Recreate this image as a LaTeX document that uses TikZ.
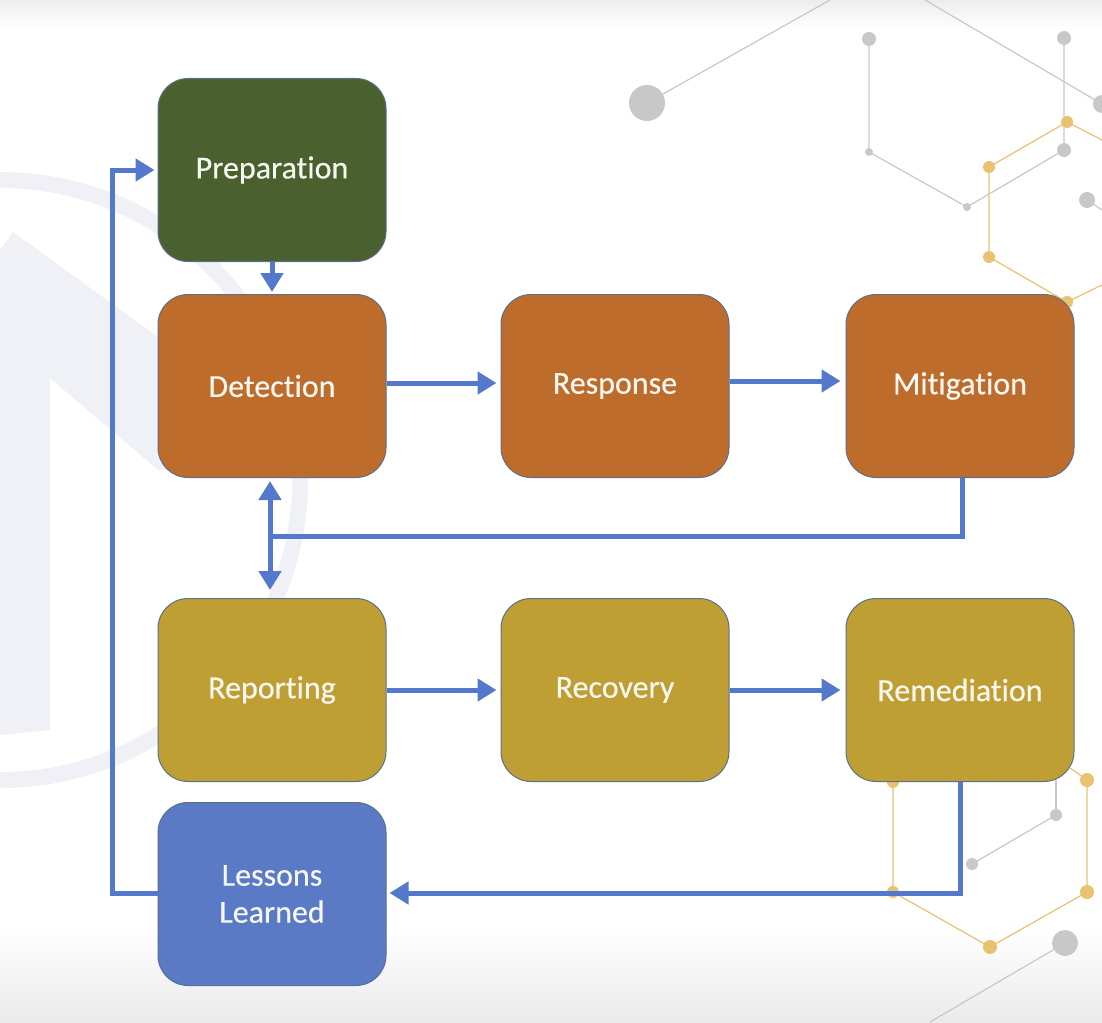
\documentclass[tikz,border=0pt]{standalone}
\usepackage{fontspec}
\setmainfont{Carlito}[Ligatures=NoCommon, FakeBold=0.4]
\usetikzlibrary{arrows.meta,calc}
\definecolor{bgline}{HTML}{C8C8C8}
\definecolor{hexor}{HTML}{E9C16F}
\definecolor{wm}{HTML}{F0F1F6}
\definecolor{cgreen}{HTML}{4A602F}
\definecolor{corange}{HTML}{BD6C2C}
\definecolor{cgold}{HTML}{BF9F33}
\definecolor{cblue}{HTML}{5A7AC5}
\definecolor{cedge}{HTML}{5C6F8E}
\definecolor{carrow}{HTML}{5479CC}
\definecolor{ctext}{HTML}{F7F7F2}
\tikzset{
  stepbox/.style={draw=cedge, line width=1pt, rounded corners=30pt, minimum width=228pt, minimum height=183pt, text=ctext, font=\fontsize{32}{37}\selectfont, align=center, inner sep=0pt},
  flow/.style={draw=carrow, line width=5pt, -{Triangle[width=22pt,length=19pt]}},
  flowline/.style={draw=carrow, line width=5pt},
  dbl/.style={draw=carrow, line width=5pt, {Triangle[width=22pt,length=19pt]}-{Triangle[width=22pt,length=19pt]}},
  gl/.style={draw=bgline, line width=1.2pt},
  ol/.style={draw=hexor, line width=1.2pt},
}
\begin{document}
\begin{tikzpicture}[x=1pt,y=-1pt]
\useasboundingbox (0,0) rectangle (1102,1022);
% background
\fill[white] (0,0) rectangle (1102,1022);
\shade[top color=black!7, bottom color=white] (0,0) rectangle (1102,28);
\shade[top color=white, bottom color=black!8] (0,930) rectangle (1102,1022);
% watermark
\fill[wm] (0,250) -- (13,232) -- (300,440) -- (300,470) -- (158,470) -- (50,378) -- (50,730) -- (0,735) -- cycle;
\draw[wm, line width=16pt] (0,480) ++(105:300) arc[start angle=105, end angle=-105, radius=300];
% network decoration
\coordinate (g1) at (647,103); \coordinate (g2) at (869,39); \coordinate (g3) at (869,152);
\coordinate (g4) at (967,207); \coordinate (g5) at (1064,150); \coordinate (g6) at (1064,38);
\coordinate (g7) at (1102,104); \coordinate (g8) at (1087,200);
\draw[gl] (g1) -- (830,0);
\draw[gl] (925,0) -- (g7);
\draw[gl] (g2) -- (g3) -- (g4) -- (g5) -- (g6);
\draw[gl] (g8) -- (1102,210);
\coordinate (o1) at (1067,122); \coordinate (o2) at (989,167); \coordinate (o3) at (989,257);
\coordinate (o4) at (1067,302);
\draw[ol] (1102,140) -- (o1) -- (o2) -- (o3) -- (o4) -- (1102,285);
\coordinate (p1) at (893,782); \coordinate (p2) at (893,892); \coordinate (p3) at (990,947);
\coordinate (p4) at (1087,892); \coordinate (p5) at (1087,780);
\draw[ol] (p1) -- (p2) -- (p3) -- (p4) -- (p5) -- (1070,768);
\coordinate (q1) at (1056,815); \coordinate (q2) at (972,864); \coordinate (q3) at (1065,943);
\draw[gl] (q1) -- (q2);
\draw[gl] (1056,780) -- (q1);
\draw[gl] (q3) -- (930,1022);
\fill[bgline] (g1) circle (18pt) (g2) circle (7pt) (g3) circle (4pt) (g4) circle (4pt)
  (g5) circle (7pt) (g6) circle (7pt) (g7) circle (9pt) (g8) circle (8pt)
  (q1) circle (6pt) (q2) circle (6pt) (q3) circle (13pt);
\fill[hexor] (o1) circle (6pt) (o2) circle (6pt) (o3) circle (6pt) (o4) circle (6pt)
  (p1) circle (6pt) (p2) circle (6pt) (p3) circle (7pt) (p4) circle (7pt) (p5) circle (7pt);
% boxes
\node[stepbox, fill=cgreen]  (prep) at (272,170) {Preparation};
\node[stepbox, fill=corange] (det)  at (272,386) {Detection};
\node[stepbox, fill=corange] (resp) at (615,386) {Response};
\node[stepbox, fill=corange] (mit)  at (960,386) {Mitigation};
\node[stepbox, fill=cgold]   (rep)  at (272,690) {Reporting};
\node[stepbox, fill=cgold]   (rec)  at (615,690) {Recovery};
\node[stepbox, fill=cgold]   (rem)  at (960,690) {Remediation};
\node[stepbox, fill=cblue]   (les)  at (272,894) {Lessons\\Learned};
% connectors
\draw[flow] (prep.south) -- ($(det.north)+(0,-2)$);
\draw[flow] (det.east |- 0,383) -- ($(resp.west |- 0,383)+(-4,0)$);
\draw[flow] (resp.east |- 0,381) -- ($(mit.west |- 0,381)+(-5,0)$);
\coordinate (dtop) at ($(det.south)+(-2,3)$);
\coordinate (rbot) at ($(rep.north)+(-2,-8)$);
\draw[dbl] (dtop) -- (rbot);
\coordinate (mj) at (270,536);
\draw[flowline] ($(mit.south)+(2,0)$) |- (mj);
\draw[flow] (rep.east |- 0,690) -- ($(rec.west |- 0,690)+(-4,0)$);
\draw[flow] (rec.east |- 0,690) -- ($(rem.west |- 0,690)+(-5,0)$);
\draw[flow] ($(rem.south)+(0,0)$) |- ($(les.east |- 0,893)+(3,0)$);
\coordinate (lc) at (112,893);
\coordinate (pc) at (112,170);
\draw[flow] (les.west |- 0,893) -- (lc) -- (pc) -- ($(prep.west)+(-3,0)$);
\end{tikzpicture}
\end{document}
